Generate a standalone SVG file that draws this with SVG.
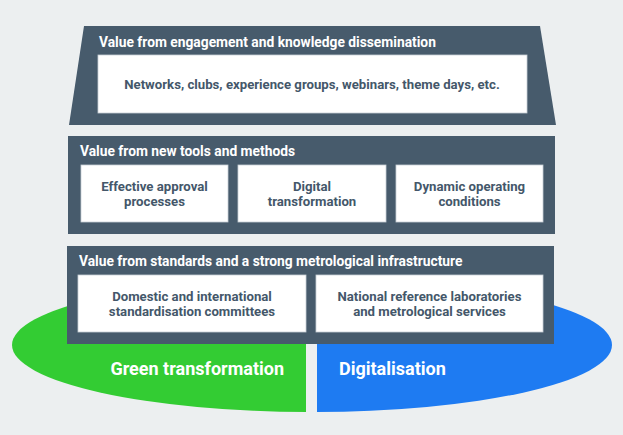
<svg xmlns="http://www.w3.org/2000/svg" width="623" height="435" viewBox="0 0 623 435">
<style>
.panel{fill:#475b6c}
.box{fill:#ffffff;stroke:#c9d0d6;stroke-width:0.8}
.hdr{font-family:Roboto,"Liberation Sans",sans-serif;font-weight:700;font-size:13.8px;fill:#ffffff}
.txt{font-family:Roboto,"Liberation Sans",sans-serif;font-weight:700;font-size:13.2px;fill:#44576a;text-anchor:middle}
.big{font-family:Roboto,"Liberation Sans",sans-serif;font-weight:700;font-size:18px;fill:#ffffff}
</style>
<defs>
<clipPath id="cl"><rect x="0" y="0" width="306" height="435"/></clipPath>
<clipPath id="cr"><rect x="317" y="0" width="306" height="435"/></clipPath>
</defs>
<rect width="623" height="435" fill="#eceff0"/>
<g id="green">
<ellipse cx="312" cy="345" rx="300" ry="67" fill="#33cc33" clip-path="url(#cl)"/>
<text class="big" x="284" y="375" text-anchor="end">Green transformation</text>
</g>
<g id="blue">
<ellipse cx="312" cy="345" rx="300" ry="67" fill="#1e7bf2" clip-path="url(#cr)"/>
<text class="big" x="339" y="375">Digitalisation</text>
</g>
<g id="top">
<polygon class="panel" points="84,26 540,26 556,125 69,125"/>
<text class="hdr" x="99" y="47">Value from engagement and knowledge dissemination</text>
<rect class="box" x="98" y="55" width="429" height="58"/>
<text class="txt" x="312" y="89">Networks, clubs, experience groups, webinars, theme days, etc.</text>
</g>
<g id="middle">
<rect class="panel" x="68" y="136" width="487" height="98"/>
<text class="hdr" x="80" y="156">Value from new tools and methods</text>
<rect class="box" x="81" y="165" width="147" height="57"/>
<text class="txt" x="154.5" y="191">Effective approval</text>
<text class="txt" x="154.5" y="206">processes</text>
<rect class="box" x="238" y="165" width="148" height="57"/>
<text class="txt" x="312" y="191">Digital</text>
<text class="txt" x="312" y="206">transformation</text>
<rect class="box" x="396" y="165" width="147" height="57"/>
<text class="txt" x="469.5" y="191">Dynamic operating</text>
<text class="txt" x="469.5" y="206">conditions</text>
</g>
<g id="bottom">
<rect class="panel" x="67" y="246" width="487" height="98"/>
<text class="hdr" x="79" y="266">Value from standards and a strong metrological infrastructure</text>
<rect class="box" x="78" y="275" width="228" height="57"/>
<text class="txt" x="192" y="301">Domestic and international</text>
<text class="txt" x="192" y="316">standardisation committees</text>
<rect class="box" x="316" y="275" width="227" height="57"/>
<text class="txt" x="429.5" y="301">National reference laboratories</text>
<text class="txt" x="429.5" y="316">and metrological services</text>
</g>
<g id="connectors"/>
</svg>
